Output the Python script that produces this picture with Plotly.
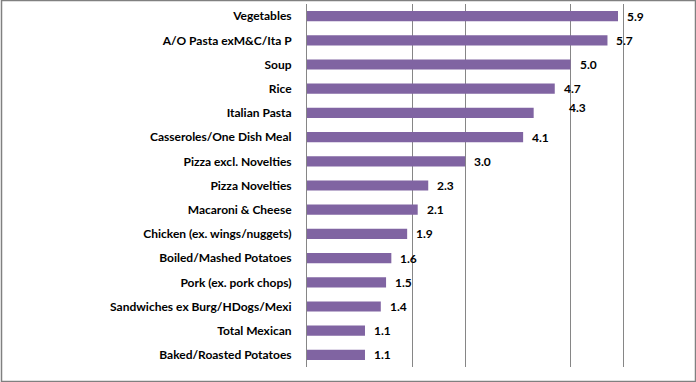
import plotly.graph_objects as go

categories = ["Vegetables", "A/O Pasta exM&C/Ita P", "Soup", "Rice", "Italian Pasta",
              "Casseroles/One Dish Meal", "Pizza excl. Novelties", "Pizza Novelties",
              "Macaroni & Cheese", "Chicken (ex. wings/nuggets)", "Boiled/Mashed Potatoes",
              "Pork (ex. pork chops)", "Sandwiches ex Burg/HDogs/Mexi", "Total Mexican",
              "Baked/Roasted Potatoes"]
values = [5.9, 5.7, 5.0, 4.7, 4.3, 4.1, 3.0, 2.3, 2.1, 1.9, 1.6, 1.5, 1.4, 1.1, 1.1]
grid_ticks = [2, 3, 5, 6]

FONT = "Lato"
W, H = 696, 382
L, R, T, B = 307, 20, 4, 15
PW, PH = W - L - R, H - T - B

fig = go.Figure(go.Bar(
    x=values, y=categories, orientation="h",
    marker=dict(color="#8064A2", line=dict(width=0)),
    width=0.42,
))

annotations = []
for c, v in zip(categories, values):
    xs, ys = 7, 0
    if c == "Italian Pasta":
        xs, ys = 33, 5
    annotations.append(dict(x=v, y=c, xref="x", yref="y", text=f"<b>{v:.1f}</b>",
                            showarrow=False, xanchor="left", yanchor="middle",
                            xshift=xs, yshift=ys,
                            font=dict(family=FONT, size=12, color="#000000")))

fig.update_layout(
    width=W, height=H,
    margin=dict(l=L, r=R, t=T, b=B, autoexpand=False),
    paper_bgcolor="white", plot_bgcolor="white",
    showlegend=False,
    annotations=annotations,
    xaxis=dict(range=[0, 7], tickvals=grid_ticks, showticklabels=False,
               showgrid=True, gridcolor="#868686", gridwidth=1, zeroline=False,
               showline=False, ticks=""),
    yaxis=dict(showline=True, linecolor="#868686", linewidth=1,
               showgrid=False, ticks="", ticklabelstandoff=12,
               tickfont=dict(family=FONT, size=12, color="#000000"),
               range=[14.5, -0.5]),
    shapes=[dict(type="rect", xref="paper", yref="paper",
                 x0=-(L - 1.5) / PW, x1=(695.5 - L) / PW,
                 y0=-(381.5 - (H - B)) / PH, y1=1 + (T - 0.5) / PH,
                 line=dict(color="#808080", width=1.5), fillcolor="rgba(0,0,0,0)")],
)
fig.update_yaxes(tickprefix="<b>", ticksuffix="</b>")
fig.write_html("out.html", config={"displayModeBar": False},
               post_script="document.body.style.margin='0';document.body.style.overflow='hidden';")
